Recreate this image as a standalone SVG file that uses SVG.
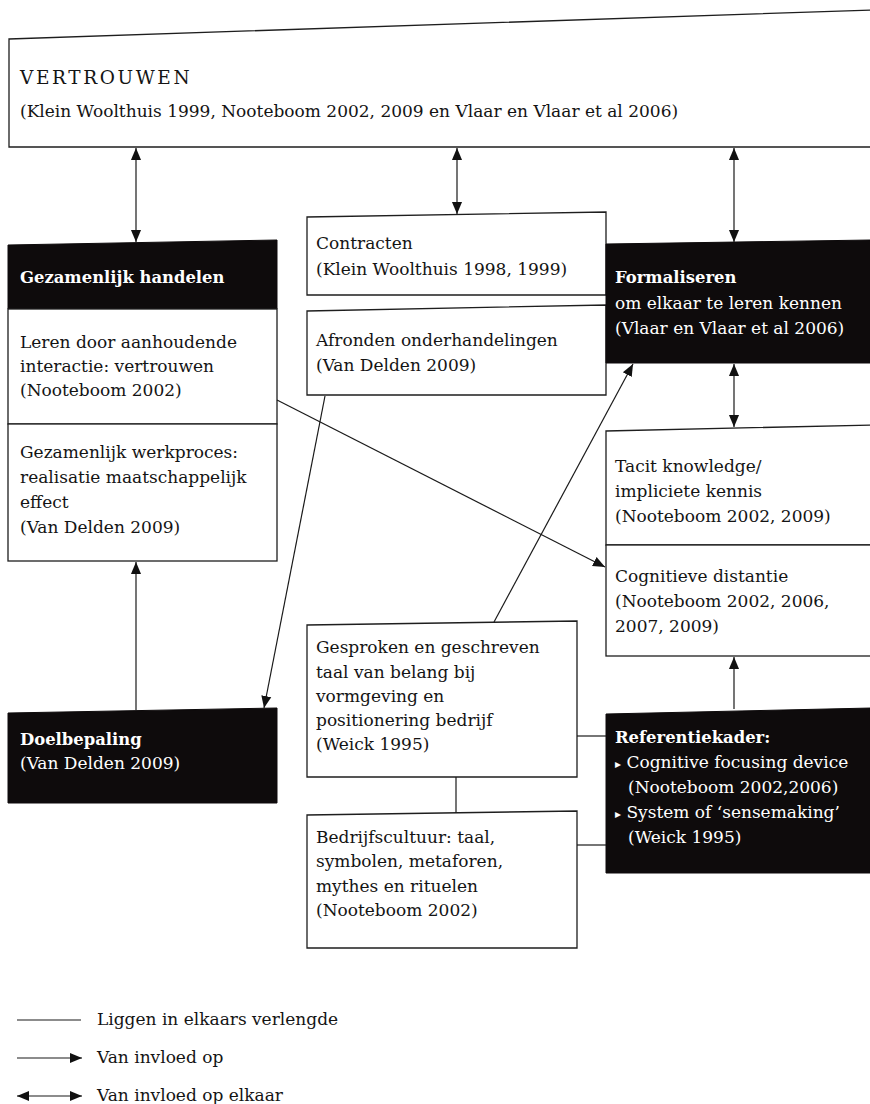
<svg xmlns="http://www.w3.org/2000/svg" width="870" height="1104" viewBox="0 0 870 1104">
<defs>
<style>
.t{font-family:"DejaVu Serif","Liberation Serif",serif;font-size:17px;fill:#141414}
.w{fill:#ffffff}
.b{font-weight:bold;font-size:16.4px}
.cap{font-size:18.5px;letter-spacing:2.6px}
.sm{font-size:12px}
.box{fill:#ffffff;stroke:#1e1e1e;stroke-width:1.3}
.blk{fill:#0e0b0c;stroke:#0e0b0c;stroke-width:1}
.c{fill:none;stroke:#1a1a1a;stroke-width:1.2}
</style>
<marker id="ah" viewBox="0 0 10 10" refX="10" refY="5" markerWidth="12" markerHeight="12" markerUnits="userSpaceOnUse" orient="auto-start-reverse">
<path d="M0,0.8 L10,5 L0,9.2 Z" fill="#111"/>
</marker>
</defs>
<rect width="870" height="1104" fill="#ffffff"/>

<g id="vertrouwen">
<polygon class="box" points="9,39 872,10 872,147 9,147"/>
<text class="t cap" x="20" y="84">VERTROUWEN</text>
<text class="t" x="20" y="117">(Klein Woolthuis 1999, Nooteboom 2002, 2009 en Vlaar en Vlaar et al 2006)</text>
</g>

<g id="gezamenlijk-handelen">
<polygon class="blk" points="8,245 277,240 277,309 8,309"/>
<text class="t w b" x="20" y="283">Gezamenlijk handelen</text>
</g>

<g id="leren">
<rect class="box" x="8" y="309" width="269" height="115"/>
<text class="t" x="20" y="348">Leren door aanhoudende</text>
<text class="t" x="20" y="372">interactie: vertrouwen</text>
<text class="t" x="20" y="396">(Nooteboom 2002)</text>
</g>

<g id="werkproces">
<rect class="box" x="8" y="424" width="269" height="137"/>
<text class="t" x="20" y="458">Gezamenlijk werkproces:</text>
<text class="t" x="20" y="483">realisatie maatschappelijk</text>
<text class="t" x="20" y="508">effect</text>
<text class="t" x="20" y="533">(Van Delden 2009)</text>
</g>

<g id="doelbepaling">
<polygon class="blk" points="8,713 277,708 277,803 8,803"/>
<text class="t w b" x="20" y="745">Doelbepaling</text>
<text class="t w" x="20" y="769">(Van Delden 2009)</text>
</g>

<g id="contracten">
<polygon class="box" points="307,217 606,212 606,295 307,295"/>
<text class="t" x="316" y="249">Contracten</text>
<text class="t" x="316" y="275">(Klein Woolthuis 1998, 1999)</text>
</g>

<g id="afronden">
<polygon class="box" points="307,311 606,305 606,395 307,395"/>
<text class="t" x="316" y="346">Afronden onderhandelingen</text>
<text class="t" x="316" y="371">(Van Delden 2009)</text>
</g>

<g id="formaliseren">
<polygon class="blk" points="606,244 872,240 872,363 606,363"/>
<text class="t w b" x="615" y="283">Formaliseren</text>
<text class="t w" x="615" y="309">om elkaar te leren kennen</text>
<text class="t w" x="615" y="334">(Vlaar en Vlaar et al 2006)</text>
</g>

<g id="tacit">
<polygon class="box" points="606,431 872,425 872,545 606,545"/>
<text class="t" x="615" y="472">Tacit knowledge/</text>
<text class="t" x="615" y="497">impliciete kennis</text>
<text class="t" x="615" y="522">(Nooteboom 2002, 2009)</text>
</g>

<g id="cognitieve">
<rect class="box" x="606" y="545" width="266" height="111"/>
<text class="t" x="615" y="582">Cognitieve distantie</text>
<text class="t" x="615" y="607">(Nooteboom 2002, 2006,</text>
<text class="t" x="615" y="632">2007, 2009)</text>
</g>

<g id="referentiekader">
<polygon class="blk" points="606,714 872,708 872,873 606,873"/>
<text class="t w b" x="615" y="743">Referentiekader:</text>
<text class="t w" x="615" y="768"><tspan class="sm">▸</tspan> Cognitive focusing device</text>
<text class="t w" x="628" y="793">(Nooteboom 2002,2006)</text>
<text class="t w" x="615" y="818"><tspan class="sm">▸</tspan> System of ‘sensemaking’</text>
<text class="t w" x="628" y="843">(Weick 1995)</text>
</g>

<g id="gesproken">
<polygon class="box" points="307,625 577,621 577,777 307,777"/>
<text class="t" x="316" y="653">Gesproken en geschreven</text>
<text class="t" x="316" y="678">taal van belang bij</text>
<text class="t" x="316" y="702">vormgeving en</text>
<text class="t" x="316" y="726">positionering bedrijf</text>
<text class="t" x="316" y="750">(Weick 1995)</text>
</g>

<g id="bedrijfscultuur">
<polygon class="box" points="307,815 577,811 577,948 307,948"/>
<text class="t" x="316" y="843">Bedrijfscultuur: taal,</text>
<text class="t" x="316" y="867">symbolen, metaforen,</text>
<text class="t" x="316" y="892">mythes en rituelen</text>
<text class="t" x="316" y="916">(Nooteboom 2002)</text>
</g>

<g id="connectors">
<line class="c" x1="136" y1="148" x2="136" y2="242" marker-start="url(#ah)" marker-end="url(#ah)"/>
<line class="c" x1="457" y1="148" x2="457" y2="214" marker-start="url(#ah)" marker-end="url(#ah)"/>
<line class="c" x1="734" y1="148" x2="734" y2="242" marker-start="url(#ah)" marker-end="url(#ah)"/>
<line class="c" x1="734" y1="364" x2="734" y2="427" marker-start="url(#ah)" marker-end="url(#ah)"/>
<line class="c" x1="734" y1="709" x2="734" y2="657" marker-end="url(#ah)"/>
<line class="c" x1="136" y1="710" x2="136" y2="562" marker-end="url(#ah)"/>
<line class="c" x1="277" y1="400" x2="605" y2="567" marker-end="url(#ah)"/>
<line class="c" x1="325" y1="396" x2="264" y2="708" marker-end="url(#ah)"/>
<line class="c" x1="494" y1="622" x2="633" y2="364" marker-end="url(#ah)"/>
<line class="c" x1="456" y1="777" x2="456" y2="813"/>
<line class="c" x1="577" y1="736" x2="606" y2="736"/>
<line class="c" x1="577" y1="845" x2="606" y2="845"/>
</g>

<g id="legend">
<line class="c" x1="17" y1="1020" x2="81" y2="1020"/>
<text class="t" x="97" y="1025">Liggen in elkaars verlengde</text>
<line class="c" x1="17" y1="1058" x2="82" y2="1058" marker-end="url(#ah)"/>
<text class="t" x="97" y="1063">Van invloed op</text>
<line class="c" x1="17" y1="1096" x2="82" y2="1096" marker-start="url(#ah)" marker-end="url(#ah)"/>
<text class="t" x="97" y="1101">Van invloed op elkaar</text>
</g>
</svg>
